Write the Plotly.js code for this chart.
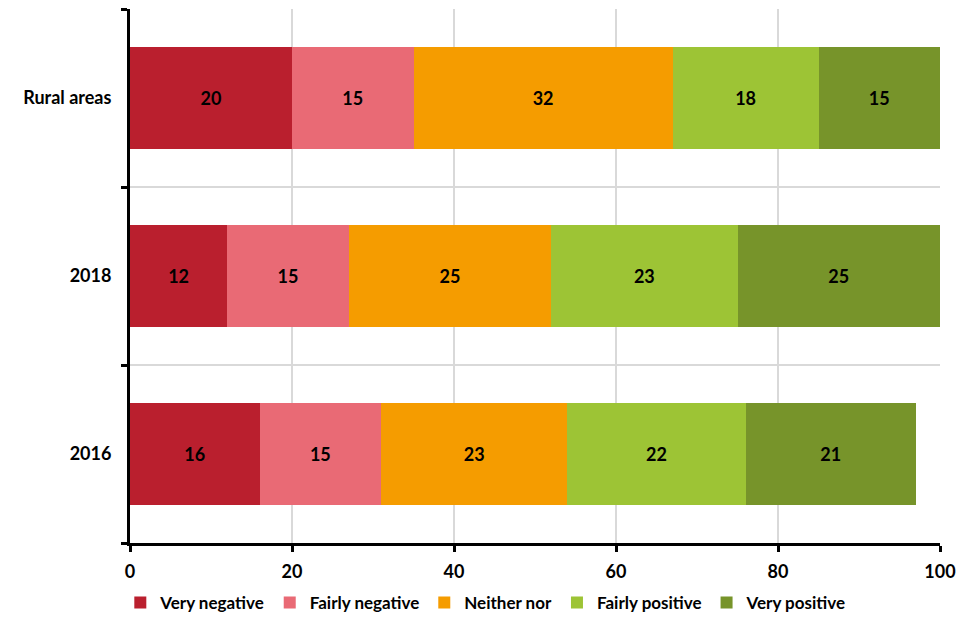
<!DOCTYPE html>
<html>
<head>
<meta charset="utf-8">
<script src="https://cdn.plot.ly/plotly-3.0.1.min.js"></script>
<style>html,body{margin:0;padding:0;background:#fff;}#chart{width:962px;height:619px;}</style>
</head>
<body>
<div id="chart"></div>
<script>
const categories = ['2016', '2018', 'Rural areas'];
const seriesNames = ['Very negative', 'Fairly negative', 'Neither nor', 'Fairly positive', 'Very positive'];
const veryNegative = [16, 12, 20];
const fairlyNegative = [15, 15, 15];
const neitherNor = [23, 25, 32];
const fairlyPositive = [22, 23, 18];
const veryPositive = [21, 25, 15];
const xTicks = [0, 20, 40, 60, 80, 100];

const seriesValues = [veryNegative, fairlyNegative, neitherNor, fairlyPositive, veryPositive];
const colors = ['#BA1F2E', '#E96A75', '#F59C00', '#9DC435', '#77942A'];
const font = 'Lato, "Open Sans", sans-serif';

const data = seriesValues.map((vals, i) => ({
  type: 'bar',
  orientation: 'h',
  name: seriesNames[i],
  y: categories,
  x: vals,
  text: vals.map(String),
  textposition: 'inside',
  insidetextanchor: 'middle',
  textangle: 0,
  constraintext: 'none',
  textfont: {family: font, size: 18, color: '#000', weight: 'bold'},
  marker: {color: colors[i], line: {width: 0}},
  hoverinfo: 'x+name'
}));

const layout = {
  width: 962,
  height: 619,
  barmode: 'stack',
  bargap: 0.43,
  margin: {l: 130, r: 22, t: 9, b: 76, autoexpand: false},
  paper_bgcolor: '#fff',
  plot_bgcolor: '#fff',
  font: {family: font, size: 18, color: '#000'},
  showlegend: true,
  legend: {
    orientation: 'h',
    xref: 'container',
    x: 0.505, xanchor: 'center',
    yref: 'container',
    y: 0.026, yanchor: 'middle',
    font: {family: font, size: 17, color: '#000', weight: 'bold'},
    traceorder: 'normal',
    itemwidth: 30,
    tracegroupgap: 0
  },
  xaxis: {
    range: [0, 100],
    tickvals: xTicks,
    ticktext: xTicks.map(String),
    showgrid: true,
    gridcolor: '#D9D9D9',
    gridwidth: 1.5,
    zeroline: false,
    showline: true,
    linecolor: '#000',
    linewidth: 3,
    ticks: 'outside',
    ticklen: 6,
    tickwidth: 3,
    tickcolor: '#000',
    ticklabelstandoff: 4,
    tickfont: {family: font, size: 18, color: '#000', weight: 'bold'},
    fixedrange: true
  },
  yaxis: {
    type: 'category',
    categoryorder: 'array',
    categoryarray: categories,
    tickson: 'boundaries',
    showgrid: true,
    gridcolor: '#D9D9D9',
    gridwidth: 1.5,
    showline: true,
    linecolor: '#000',
    linewidth: 3,
    ticks: 'outside',
    ticklen: 6,
    tickwidth: 3,
    tickcolor: '#000',
    ticklabelstandoff: 12,
    tickfont: {family: font, size: 18, color: '#000', weight: 'bold'},
    fixedrange: true
  }
};

Plotly.newPlot('chart', data, layout, {displayModeBar: false, staticPlot: true});
</script>
</body>
</html>
